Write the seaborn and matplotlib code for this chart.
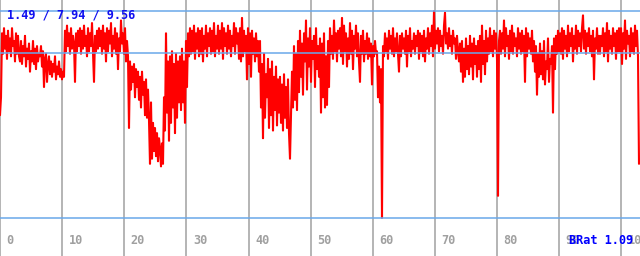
import numpy as np
import pandas as pd
import matplotlib
matplotlib.use("Agg")
import matplotlib.pyplot as plt
import seaborn as sns

# ---- data (one sample per pixel column) ----
values = [
    5.5, 6.2, 8.7, 7.9, 8.9, 8.1, 8.6, 7.7, 8.8, 8.0, 8.5, 7.8, 8.9, 8.2, 8.4, 7.6, 8.7, 7.9, 8.6, 7.8,
    7.6, 8.4, 7.5, 8.2, 7.8, 8.6, 7.4, 8.1, 7.7, 8.3, 7.2, 8.0, 7.6, 8.4, 7.5, 8.1, 7.3, 8.2, 7.6, 7.9,
    7.8, 8.2, 7.4, 8.0, 6.6, 7.7, 7.9, 6.8, 7.5, 7.8, 7.1, 7.6, 7.0, 7.5, 7.2, 7.8, 6.9, 7.4, 7.1, 7.6,
    7.0, 7.3, 6.9, 7.2, 7.0, 8.8, 8.0, 9.0, 8.2, 8.7, 7.9, 8.9, 8.1, 8.6, 8.3, 6.8, 8.7, 8.0, 8.8, 8.2,
    8.9, 7.9, 8.8, 8.1, 9.0, 8.2, 8.6, 7.8, 8.9, 8.0, 8.7, 8.2, 9.1, 7.9, 6.8, 8.6, 8.0, 8.8, 8.1, 8.9,
    8.2, 8.8, 7.9, 9.0, 8.1, 8.7, 7.6, 8.9, 8.0, 8.8, 8.3, 9.1, 7.8, 8.6, 8.1, 8.9, 7.9, 8.7, 7.3, 8.5,
    8.0, 9.2, 8.3, 8.7, 7.9, 8.9, 7.6, 8.4, 7.8, 5.0, 7.6, 6.5, 7.4, 6.8, 7.5, 6.2, 7.3, 6.6, 7.2, 6.1,
    7.0, 5.8, 7.2, 6.3, 6.8, 5.5, 6.9, 5.4, 6.5, 5.3, 3.6, 6.0, 3.8, 5.2, 4.1, 5.0, 3.9, 4.8, 3.7, 4.6,
    4.2, 3.5, 4.4, 3.6, 6.2, 4.9, 8.7, 5.6, 7.6, 4.5, 7.8, 5.2, 8.0, 5.8, 7.5, 4.8, 7.9, 5.4, 7.6, 6.0,
    7.8, 5.7, 8.1, 6.0, 7.6, 5.2, 8.4, 6.6, 8.7, 7.8, 8.9, 7.9, 8.8, 8.0, 9.0, 7.7, 8.7, 8.1, 8.9, 7.8,
    8.8, 7.9, 8.9, 7.6, 8.6, 8.1, 9.0, 7.8, 8.7, 8.2, 8.9, 7.9, 8.8, 8.0, 9.1, 7.8, 8.6, 8.1, 9.0, 7.9,
    8.8, 8.1, 9.1, 7.7, 8.9, 8.2, 8.7, 7.9, 9.0, 8.1, 8.8, 7.8, 8.6, 8.2, 9.1, 7.9, 8.9, 8.3, 8.7, 7.7,
    8.9, 7.6, 9.3, 7.8, 8.8, 8.0, 8.6, 6.9, 8.9, 7.5, 8.7, 7.0, 8.8, 7.9, 8.5, 7.6, 8.7, 7.8, 8.4, 7.2,
    8.4, 5.8, 7.5, 4.6, 7.9, 5.4, 7.1, 6.2, 7.7, 5.0, 7.3, 5.5, 7.6, 4.9, 7.0, 5.7, 7.4, 5.1, 6.9, 5.6,
    7.0, 5.2, 6.7, 4.9, 7.1, 5.4, 6.6, 5.0, 6.9, 4.8, 3.8, 5.6, 7.2, 5.8, 8.2, 6.1, 7.9, 5.7, 8.4, 6.4,
    8.8, 7.0, 8.3, 6.3, 8.7, 7.6, 9.2, 6.5, 8.5, 7.4, 8.9, 6.8, 8.4, 7.7, 8.6, 6.6, 8.9, 7.3, 8.2, 7.0,
    8.5, 5.6, 8.3, 6.2, 8.7, 5.8, 7.8, 5.9, 8.4, 6.6, 8.9, 7.9, 8.6, 7.7, 9.2, 8.0, 8.7, 7.6, 8.8, 8.1,
    8.9, 7.8, 9.3, 7.5, 9.0, 8.0, 8.7, 7.4, 8.5, 7.7, 9.1, 7.9, 8.8, 7.3, 8.6, 8.1, 9.0, 7.8, 8.7, 7.6,
    6.8, 8.6, 7.9, 8.8, 7.6, 8.4, 7.9, 8.7, 7.7, 8.5, 7.8, 8.3, 6.7, 8.2, 7.8, 8.4, 7.9, 8.0, 6.2, 7.4,
    6.0, 7.3, 1.49, 8.2, 7.8, 8.7, 8.0, 8.5, 7.7, 8.8, 8.1, 8.6, 7.9, 8.9, 7.8, 8.5, 8.0, 8.7, 7.9, 7.2,
    8.6, 7.8, 8.7, 8.1, 8.5, 7.9, 8.8, 7.4, 8.6, 8.0, 8.9, 7.8, 8.4, 8.1, 8.7, 7.9, 8.6, 8.2, 8.8, 7.7,
    8.7, 8.0, 8.6, 7.8, 8.8, 7.6, 8.5, 8.1, 8.9, 7.9, 8.7, 8.2, 9.0, 7.8, 9.56, 8.1, 8.8, 8.3, 8.9, 8.0,
    8.8, 8.2, 8.6, 7.9, 9.0, 9.5, 8.3, 8.7, 8.1, 8.9, 8.2, 8.6, 7.9, 8.8, 8.3, 8.5, 7.7, 8.6, 8.0, 7.6,
    8.3, 7.2, 8.4, 6.8, 8.1, 7.0, 8.5, 7.3, 8.2, 7.1, 8.6, 7.4, 8.3, 6.9, 8.5, 7.5, 8.2, 7.0, 8.4, 7.3,
    8.6, 6.8, 9.0, 7.5, 8.4, 7.1, 8.8, 7.6, 8.5, 7.9, 8.9, 8.0, 8.6, 7.8, 8.8, 8.1, 8.7, 7.7, 2.35, 8.4,
    8.8, 7.9, 8.7, 8.1, 9.2, 7.8, 8.9, 8.2, 8.6, 7.7, 8.8, 8.0, 9.0, 7.9, 8.7, 8.2, 8.5, 7.8, 8.9, 8.1,
    8.7, 7.9, 8.8, 8.0, 8.6, 6.8, 8.9, 7.8, 8.7, 8.1, 8.5, 7.9, 8.8, 7.6, 8.4, 7.2, 8.2, 6.3, 7.9, 7.0,
    8.3, 7.1, 8.0, 6.9, 8.4, 6.7, 7.6, 7.3, 8.5, 6.8, 7.7, 7.5, 8.2, 5.6, 8.5, 7.3, 8.6, 7.9, 8.8, 8.0,
    8.7, 7.9, 8.9, 7.7, 8.8, 8.1, 8.6, 7.8, 9.0, 8.0, 8.7, 8.2, 8.9, 7.6, 8.6, 8.1, 9.0, 7.9, 8.8, 8.2,
    8.7, 8.0, 8.9, 9.4, 8.1, 8.8, 7.9, 8.7, 8.2, 8.9, 8.0, 8.6, 7.8, 8.8, 6.9, 8.5, 8.1, 8.9, 7.9, 8.6,
    7.9, 8.6, 8.2, 8.9, 7.8, 8.7, 8.0, 9.1, 7.6, 8.8, 8.1, 8.6, 7.9, 8.9, 8.2, 8.7, 7.7, 8.8, 8.0, 8.9,
    8.0, 8.9, 7.5, 8.7, 8.1, 9.2, 7.7, 8.8, 8.3, 8.6, 7.8, 8.9, 8.0, 8.7, 7.9, 9.0, 8.2, 8.8, 7.8, 3.6,
]
x_step = 103.0 / 640
x_pos = np.arange(len(values)) * x_step

stat_min, stat_avg, stat_max = 1.49, 7.94, 9.56
stat_label = "1.49 / 7.94 / 9.56"
brat_label = "BRat 1.09"
tick_values = [0, 10, 20, 30, 40, 50, 60, 70, 80, 90, 100]
tick_labels = ["0", "10", "20", "30", "40", "50", "60", "70", "80", "90", "100"]

df = pd.DataFrame({"x": x_pos, "v": values})

sns.set_style("white")
plt.rcParams["font.family"] = ["DejaVu Sans Mono"]

fig = plt.figure(figsize=(6.4, 2.56), dpi=100)
ax = fig.add_axes([0, 0, 1, 1])
ax.set_xlim(0, 103.0)
ax.set_ylim(0, 10)

for t in tick_values:
    ax.axvline(t, color="#a8a8a8", lw=1.2, zorder=1)

sns.lineplot(data=df, x="x", y="v", ax=ax, color="#ff0000", lw=1.5,
             estimator=None, zorder=2)

for h in (stat_min, stat_avg, stat_max):
    ax.axhline(h, color="#6aa8ea", lw=1.1, zorder=3)

for t, lab in zip(tick_values, tick_labels):
    ax.text(t + 1.05, 0.6, lab, color="#a0a0a0", fontsize=8.6,
            fontweight="bold", ha="left", va="center", zorder=4)

ax.text(1.2, 9.42, stat_label, color="#1010f0", fontsize=8.6,
        fontweight="bold", ha="left", va="center", zorder=5)
ax.text(91.5, 0.6, brat_label, color="#0000ff", fontsize=8.6,
        fontweight="bold", ha="left", va="center", zorder=5)

ax.set_xlabel("")
ax.set_ylabel("")
ax.set_xticks([])
ax.set_yticks([])
for s in ax.spines.values():
    s.set_visible(False)

fig.savefig("out.png", dpi=100, facecolor="white")
